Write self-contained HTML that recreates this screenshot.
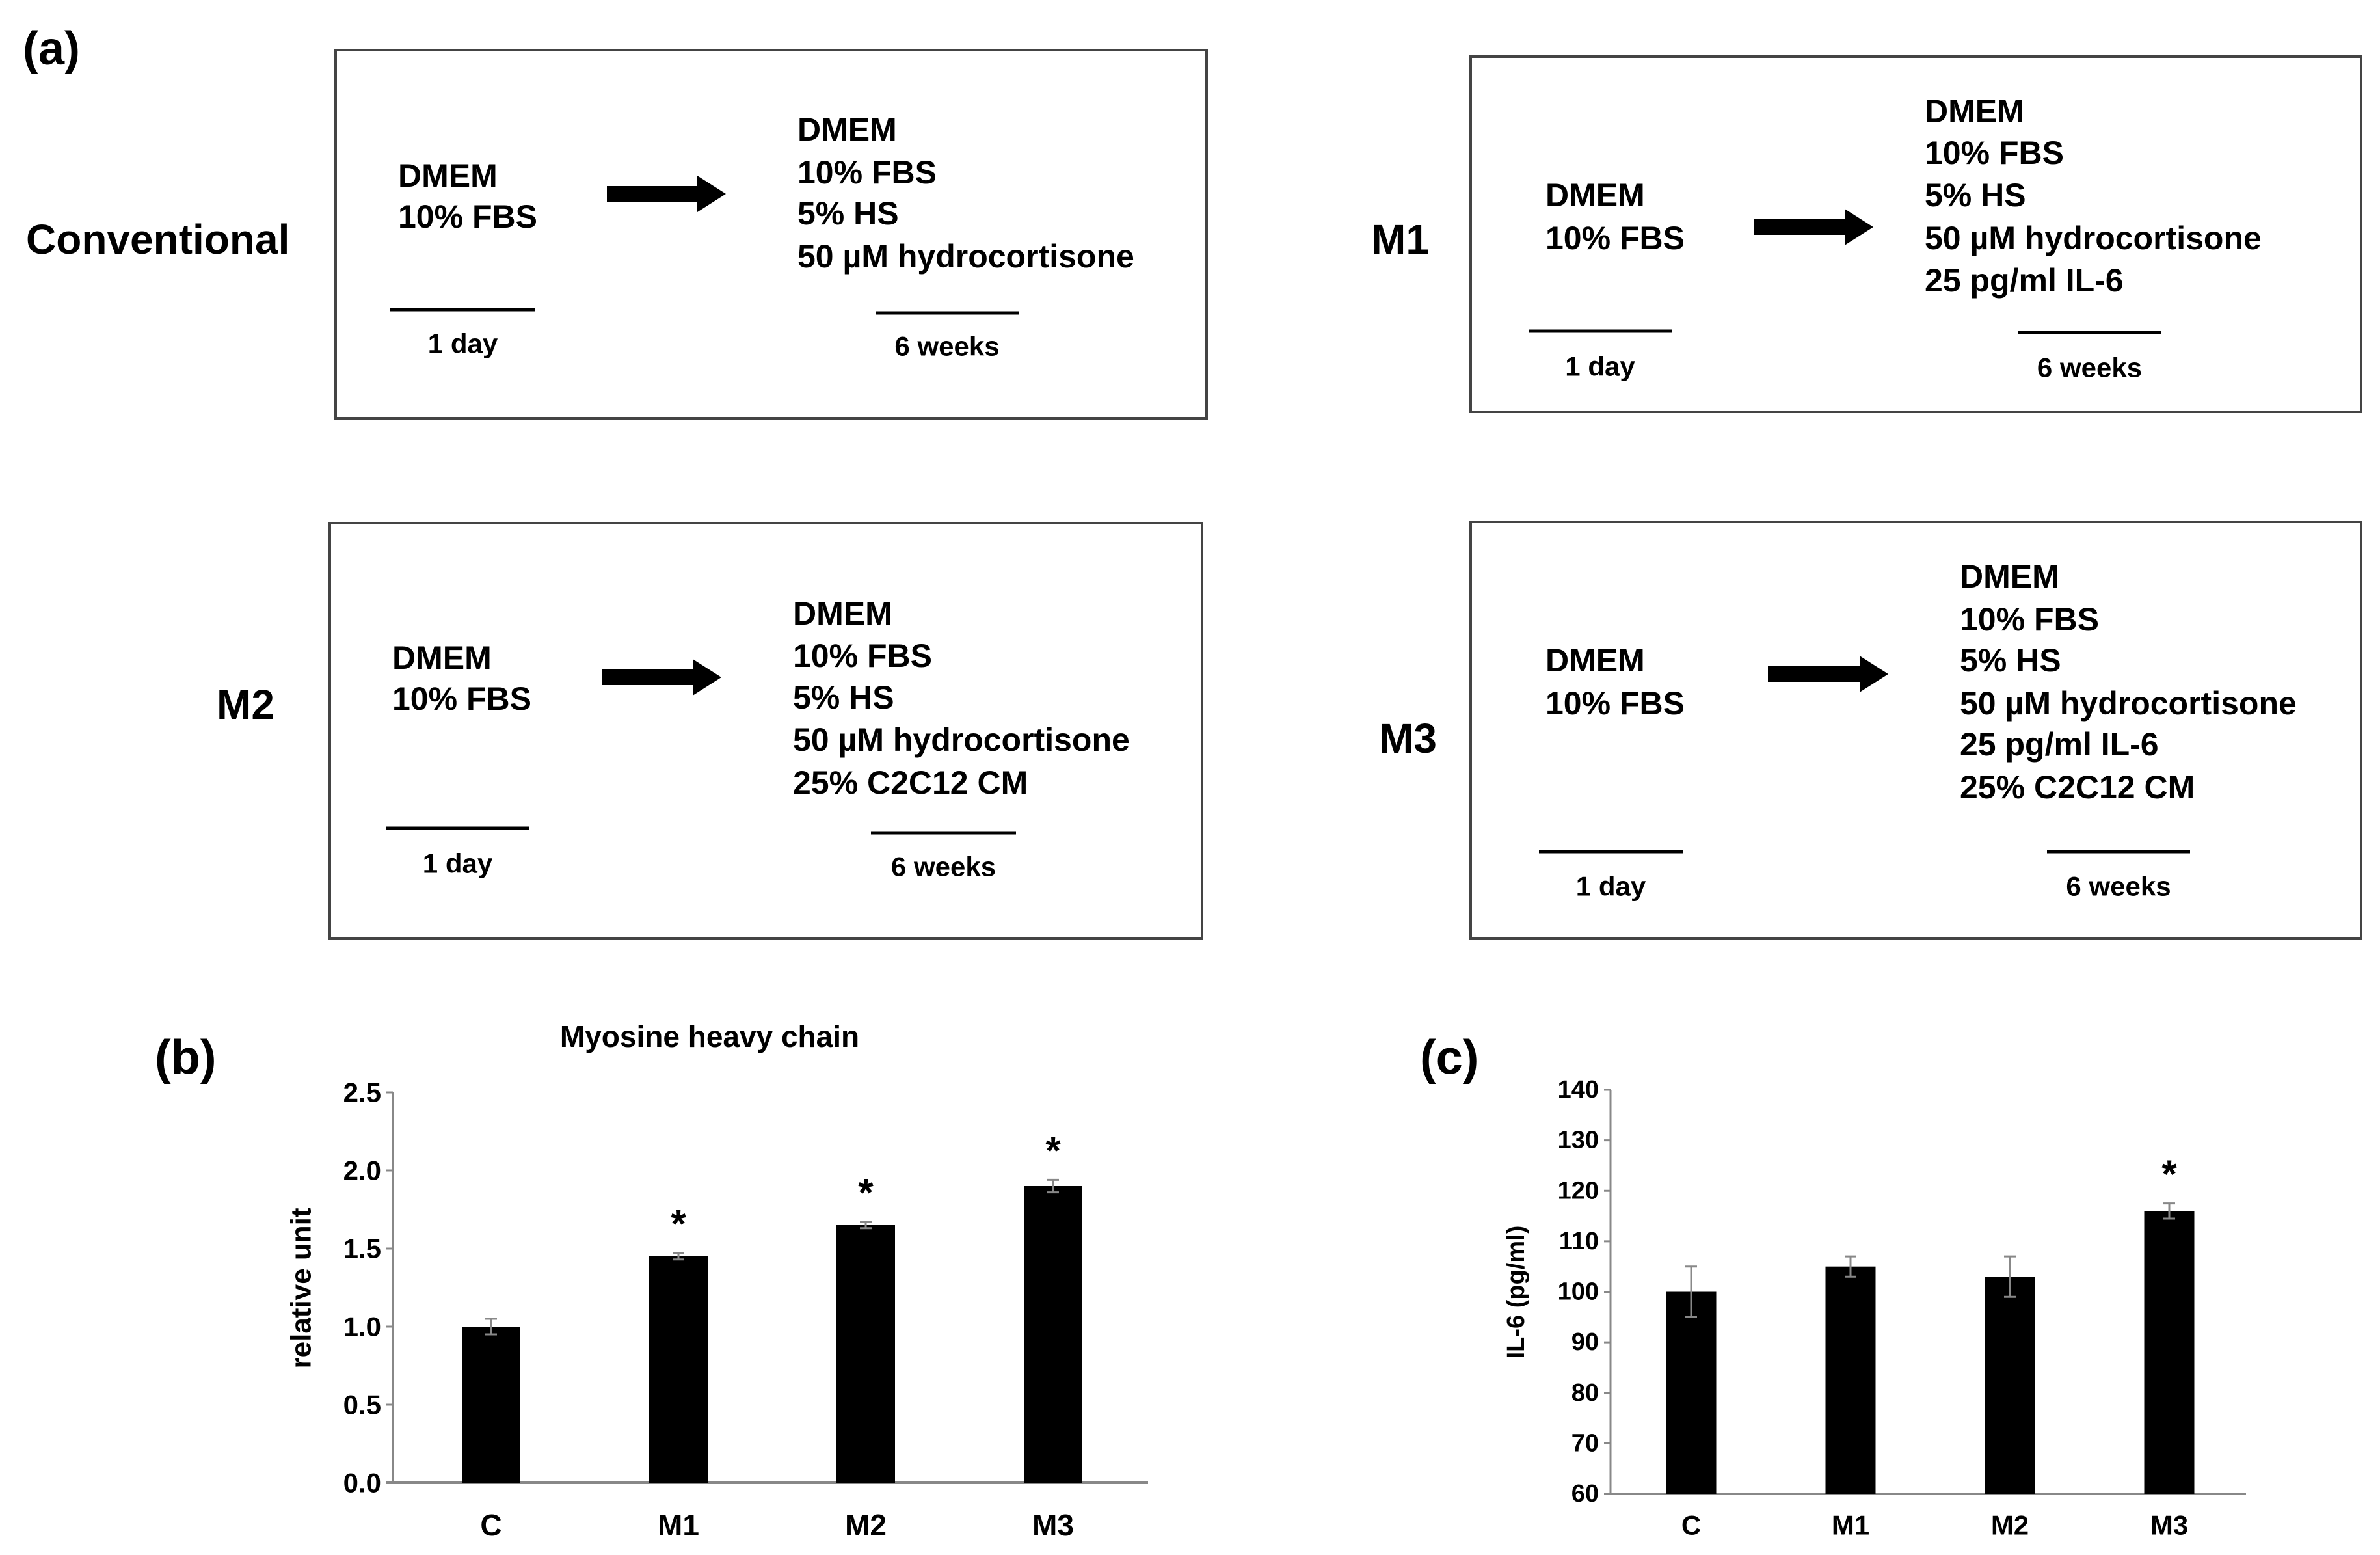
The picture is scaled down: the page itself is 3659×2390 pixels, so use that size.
<!DOCTYPE html>
<html><head><meta charset="utf-8"><style>
body{margin:0;background:#fff}
svg{display:block;font-family:"Liberation Sans",sans-serif;font-weight:bold}
</style></head><body>
<svg id="s" width="3659" height="2390" viewBox="0 0 3659 2390">
<g fill="#000">
<text x="35" y="75" font-size="72" dominant-baseline="central">(a)</text>
<text x="40" y="368" font-size="64" dominant-baseline="central">Conventional</text>
<text x="2108" y="368" font-size="64" dominant-baseline="central">M1</text>
<text x="333" y="1083" font-size="64" dominant-baseline="central">M2</text>
<text x="2120" y="1135" font-size="64" dominant-baseline="central">M3</text>
</g>
<g id="boxes"></g>
<g id="chartB"></g>
<g id="chartC"></g>
</svg>
<script>
const NS='http://www.w3.org/2000/svg';
function mk(p,tag,a,txt){const e=document.createElementNS(NS,tag);for(const k in a)e.setAttribute(k,a[k]);if(txt!==undefined)e.textContent=txt;p.appendChild(e);return e;}
const boxes=[
 {n:'conventional',r:[516,77,1855,643],lx:612,ly:[270,333],ar:[933,1116,298],rx:1226,ry:[199,265,328,394],
  rt:['DMEM','10% FBS','5% HS','50 µM hydrocortisone'],d1:[600,823,476,528],d6:[1346,1566,481,532]},
 {n:'m1',r:[2261,87,3630,633],lx:2376,ly:[300,366],ar:[2697,2880,349],rx:2959,ry:[171,235,300,366,431],
  rt:['DMEM','10% FBS','5% HS','50 µM hydrocortisone','25 pg/ml IL-6'],d1:[2350,2570,509,563],d6:[3102,3323,511,565]},
 {n:'m2',r:[507,804,1848,1442],lx:603,ly:[1011,1074],ar:[926,1109,1041],rx:1219,ry:[943,1008,1072,1137,1203],
  rt:['DMEM','10% FBS','5% HS','50 µM hydrocortisone','25% C2C12 CM'],d1:[593,814,1273,1327],d6:[1339,1562,1280,1332]},
 {n:'m3',r:[2261,802,3630,1442],lx:2376,ly:[1015,1081],ar:[2718,2903,1036],rx:3013,ry:[886,952,1015,1081,1144,1210],
  rt:['DMEM','10% FBS','5% HS','50 µM hydrocortisone','25 pg/ml IL-6','25% C2C12 CM'],d1:[2366,2587,1309,1362],d6:[3147,3367,1309,1362]}
];
const bg=document.getElementById('boxes');
boxes.forEach(b=>{
 const g=mk(bg,'g',{});
 
 
 mk(g,'rect',{x:b.r[0],y:b.r[1],width:b.r[2]-b.r[0],height:b.r[3]-b.r[1],fill:'none',stroke:'#444','stroke-width':4});
 ['DMEM','10% FBS'].forEach((t,i)=>mk(g,'text',{x:b.lx,y:b.ly[i],'font-size':50,'dominant-baseline':'central'},t));
 const [x1,x2,y]=b.ar;
 const a=mk(g,'polygon',{points:`${x1},${y-12} ${x2-44},${y-12} ${x2-44},${y-28} ${x2},${y} ${x2-44},${y+28} ${x2-44},${y+12} ${x1},${y+12}`,fill:'#000'});
 
 
 b.rt.forEach((t,i)=>mk(g,'text',{x:b.rx,y:b.ry[i],'font-size':50,'dominant-baseline':'central'},t));
 [[b.d1,'1 day'],[b.d6,'6 weeks']].forEach(([d,t])=>{
  mk(g,'line',{x1:d[0],x2:d[1],y1:d[2],y2:d[2],stroke:'#000','stroke-width':5});
  mk(g,'text',{x:(d[0]+d[1])/2,y:d[3],'font-size':42,'text-anchor':'middle','dominant-baseline':'central'},t);
 });
});
const categories=['C','M1','M2','M3'];
const mhcValues=[1.0,1.45,1.65,1.9];
const mhcErrors=[0.05,0.02,0.02,0.04];
const mhcSig=[false,true,true,true];
const mhcTicks=['0.0','0.5','1.0','1.5','2.0','2.5'];
const il6Values=[100,105,103,116];
const il6Errors=[5,2,4,1.5];
const il6Sig=[false,false,false,true];
const il6Ticks=['60','70','80','90','100','110','120','130','140'];

function chart(root,o){
 const y=v=>o.y0-(v-o.min)/(o.max-o.min)*(o.y0-o.y1);
 const ax=mk(root,'g',{});
 
 
 mk(ax,'line',{x1:o.ax,x2:o.ax,y1:o.y1,y2:o.y0,stroke:'#888','stroke-width':3});
 o.ticks.forEach(t=>{const v=parseFloat(t),yy=y(v);
  mk(ax,'line',{x1:o.ax-10,x2:o.ax,y1:yy,y2:yy,stroke:'#888','stroke-width':3});
  const tl=mk(ax,'text',{x:o.ax-18,y:yy,'font-size':o.tf,'text-anchor':'end','dominant-baseline':'central'},t);
  
  
 });
 o.vals.forEach((v,i)=>{
  const cx=o.c0+i*o.step,top=y(v);
  const r=mk(root,'rect',{x:cx-o.bw/2,y:top,width:o.bw,height:o.y0-top,fill:'#000'});
  
  
  const e=o.errs[i];
  const eb=mk(root,'path',{d:`M${cx},${y(v+e)}V${y(v-e)}M${cx-9},${y(v+e)}H${cx+9}M${cx-9},${y(v-e)}H${cx+9}`,stroke:'#888','stroke-width':3,fill:'none'});
  
  
  if(o.sig[i]){const s=mk(root,'text',{x:cx,y:y(v+e)-45,'font-size':60,'text-anchor':'middle','dominant-baseline':'central'},'*');
   
   }
  const cl=mk(root,'text',{x:cx,y:2344,'font-size':o.cf,'text-anchor':'middle','dominant-baseline':'central'},categories[i]);
  
  
 });
 mk(ax,'line',{x1:o.ax-10,x2:o.xr,y1:o.y0,y2:o.y0,stroke:'#888','stroke-width':4});
 const yl=mk(root,'text',{x:o.ylx,y:o.yly,'font-size':o.ylf,'text-anchor':'middle','dominant-baseline':'central',transform:`rotate(-90 ${o.ylx} ${o.yly})`},o.ylabel);
 
 
}
const cb=document.getElementById('chartB');
chart(cb,{min:0,max:2.5,y0:2279,y1:1679,ax:604,xr:1765,c0:755,step:288,bw:90,vals:mhcValues,errs:mhcErrors,sig:mhcSig,ticks:mhcTicks,tf:42,cf:46,ylx:463,yly:1980,ylf:44,ylabel:'relative unit'});
let t=mk(cb,'text',{x:1091,y:1593,'font-size':46,'text-anchor':'middle','dominant-baseline':'central'},'Myosine heavy chain');


t=mk(cb,'text',{x:238,y:1625,'font-size':74,'dominant-baseline':'central'},'(b)');


const cc=document.getElementById('chartC');
chart(cc,{min:60,max:140,y0:2296,y1:1675,ax:2476,xr:3453,c0:2600,step:245,bw:77,vals:il6Values,errs:il6Errors,sig:il6Sig,ticks:il6Ticks,tf:38,cf:42,ylx:2331,yly:1986,ylf:38,ylabel:'IL-6 (pg/ml)'});
t=mk(cc,'text',{x:2183,y:1625,'font-size':74,'dominant-baseline':'central'},'(c)');


</script>
</body></html>
